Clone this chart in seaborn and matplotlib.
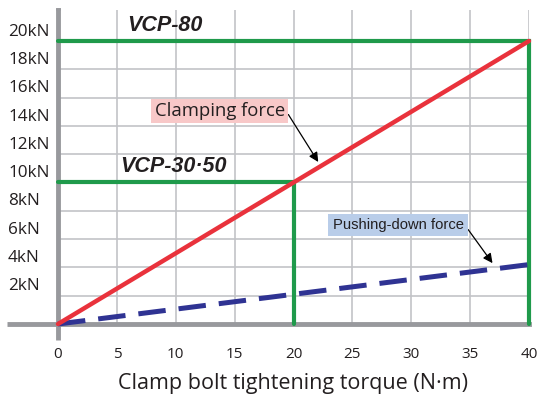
import numpy as np
import pandas as pd
import matplotlib
matplotlib.use("Agg")
import matplotlib.pyplot as plt
import seaborn as sns

# values
torque = [0, 40]                 # N·m
clamping_force = [0, 20]         # kN
pushing_force = [0, 4.2]         # kN

# model capacity boxes: (name, max torque, max clamping force)
models = ["VCP-80", "VCP-30·50"]
model_torque = [40, 20]
model_force = [20, 10]

x_ticks = list(range(0, 41, 5))
y_ticks = list(range(2, 21, 2))
y_labels = [f"{v}kN" for v in y_ticks]

sns.set_style("white")
plt.rcParams['font.family'] = ['Open Sans', 'DejaVu Sans']

RED = "#E9323C"
GREEN = "#1F9A4B"
NAVY = "#2F3393"
AXIS = "#98999D"
GRID = "#C2C3C7"
TXT = "#231F20"

fig = plt.figure(figsize=(5.44, 4.05), dpi=100)
ax = fig.add_axes([58 / 544, 0.2, 471 / 544, 314 / 405])
ax.set_xlim(0, 40)
ax.set_ylim(0, 22.19)

# grid
ax.set_xticks(x_ticks)
ax.set_yticks(y_ticks)
ax.grid(True, color=GRID, linewidth=1.2)
ax.set_axisbelow(True)
ax.tick_params(axis="y", length=37, width=1.2, color=GRID, labelleft=False)
ax.tick_params(axis="x", length=9.5, width=1.2, color=GRID, pad=7,
               labelsize=11, labelcolor=TXT)
for s in ["top", "right"]:
    ax.spines[s].set_visible(False)
for s in ["left", "bottom"]:
    ax.spines[s].set_color(AXIS)
    ax.spines[s].set_linewidth(3.5)
    ax.spines[s].set_zorder(1.5)

# extend axis lines beyond the origin
ax.plot([-51 / 471, 0], [0, 0], transform=ax.transAxes, color=AXIS,
        lw=3.5, clip_on=False, solid_capstyle="butt")
ax.plot([0, 0], [-16 / 314, 0], transform=ax.transAxes, color=AXIS,
        lw=3.5, clip_on=False, solid_capstyle="butt")
ax.plot([0, 0], [1, 1.006], transform=ax.transAxes, color=AXIS,
        lw=3.5, clip_on=False, solid_capstyle="butt")

# y labels sit above their gridlines
ytrans = ax.get_yaxis_transform()
for v, lab in zip(y_ticks, y_labels):
    ax.annotate(lab, xy=(-50 / 471, v), xycoords=ytrans, xytext=(0, 1.0),
                textcoords="offset points", ha="left", va="bottom",
                fontsize=12.3, color=TXT)

# model capacity boxes
for name, t, f in zip(models, model_torque, model_force):
    ax.plot([0, t, t], [f, f, 0], color=GREEN, lw=3, zorder=3,
            solid_joinstyle="miter", clip_on=False)

df = pd.DataFrame({"torque": torque, "clamp": clamping_force,
                   "push": pushing_force})
sns.lineplot(data=df, x="torque", y="push", ax=ax, color=NAVY, lw=3.6,
             dashes=False, zorder=4, clip_on=False)
ax.lines[-1].set_dashes([5.5, 2.6])
sns.lineplot(data=df, x="torque", y="clamp", ax=ax, color=RED, lw=3.2,
             zorder=5, clip_on=False)

ax.set_xlabel("Clamp bolt tightening torque (N·m)", fontsize=15.5,
              color=TXT, labelpad=8)
ax.set_ylabel("")

# model labels
bold = dict(family=['Liberation Sans', 'DejaVu Sans'], fontweight="bold",
            fontstyle="italic", fontsize=15.5, color=TXT, va="center")
ax.text(5.85, 21.1, models[0], **bold)
ax.text(5.25, 11.1, models[1], **bold)

# annotations
ax.annotate("Clamping force", xy=(22.1, 11.45), xytext=(13.75, 15.05),
            fontsize=13.3, color=TXT, ha="center", va="center",
            bbox=dict(boxstyle="square,pad=0.18", fc="#F8C8C8", ec="none"),
            arrowprops=dict(arrowstyle="-|>", color="black", lw=0.9,
                            mutation_scale=14, shrinkA=0, shrinkB=0,
                            relpos=(1.0, 0.6)))
ax.annotate("Pushing-down force", xy=(36.9, 4.3), xytext=(28.9, 7.0),
            fontsize=10.6, color=TXT, ha="center", va="center",
            family=['Liberation Sans Narrow', 'Liberation Sans', 'DejaVu Sans'],
            bbox=dict(boxstyle="square,pad=0.3", fc="#B9CDE9", ec="none"),
            arrowprops=dict(arrowstyle="-|>", color="black", lw=0.9,
                            mutation_scale=14, shrinkA=0, shrinkB=0,
                            relpos=(1.0, 0.6)))

fig.savefig("out.png", dpi=100)
